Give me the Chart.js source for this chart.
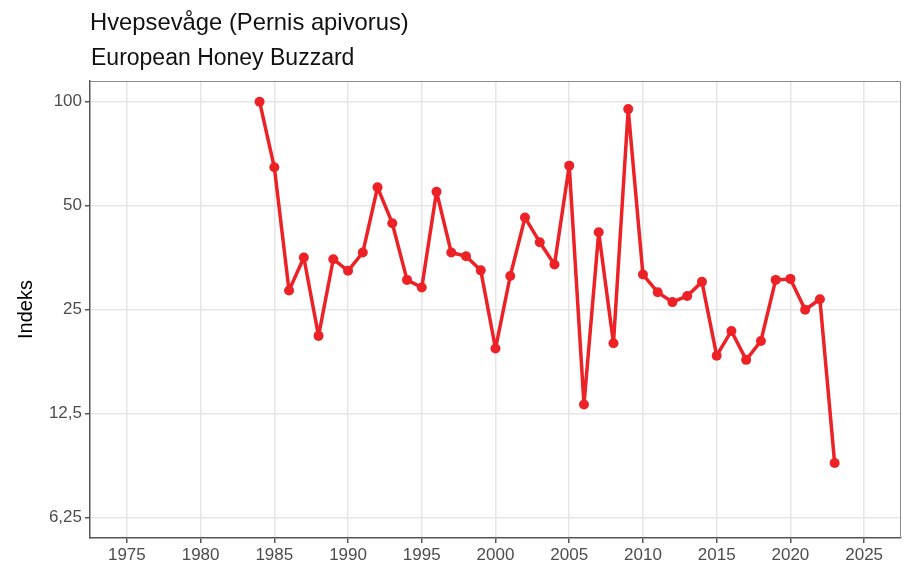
<!DOCTYPE html>
<html>
<head>
<meta charset="utf-8">
<script src="https://cdn.jsdelivr.net/npm/chart.js@4"></script>
<style>
  body { margin: 0; background: #fff; font-family: "Liberation Sans", Arial, sans-serif; }
  #wrap { position: relative; width: 906px; height: 569px; }
  #titel { position: absolute; left: 90px; top: 8px; font-size: 23.8px; color: #111; }
  #undertitel { position: absolute; left: 91px; top: 44px; font-size: 23px; color: #111; }
</style>
</head>
<body>
<div id="wrap">
  <canvas id="graf" width="906" height="569"></canvas>
  <div id="titel">Hvepsevåge (Pernis apivorus)</div>
  <div id="undertitel">European Honey Buzzard</div>
</div>
<script>
// Indeks for hvepsevåge, 1984 = 100
const aar = [1984, 1985, 1986, 1987, 1988, 1989, 1990, 1991, 1992, 1993,
             1994, 1995, 1996, 1997, 1998, 1999, 2000, 2001, 2002, 2003,
             2004, 2005, 2006, 2007, 2008, 2009, 2010, 2011, 2012, 2013,
             2014, 2015, 2016, 2017, 2018, 2019, 2020, 2021, 2022, 2023];
const indeks = [100, 64.6, 28.4, 35.4, 21.0, 35.0, 32.4, 36.6, 56.5, 44.5,
                30.5, 29.0, 54.9, 36.6, 35.7, 32.5, 19.3, 31.3, 46.2, 39.2,
                33.8, 65.3, 13.3, 41.9, 20.0, 95.2, 31.6, 28.1, 26.3, 27.4,
                30.1, 18.4, 21.7, 17.9, 20.3, 30.5, 30.7, 25.0, 26.8, 9.0];
const yTicks = [6.25, 12.5, 25, 50, 100];
const xTicks = [1975, 1980, 1985, 1990, 1995, 2000, 2005, 2010, 2015, 2020, 2025];

const ROED = '#ec2227';
const GRID = '#e6e6e6';
const AKSE = '#555555';
const TEKST = '#4d4d4d';

// ramme rundt om plotområdet (theme_bw)
const ramme = {
    id: 'ramme',
    afterDraw(chart) {
        const a = chart.chartArea, c = chart.ctx;
        c.save();
        c.strokeStyle = '#8a8a8a';
        c.lineWidth = 1;
        c.beginPath();
        c.moveTo(a.left, a.top + 0.5);
        c.lineTo(a.right - 0.5, a.top + 0.5);
        c.lineTo(a.right - 0.5, a.bottom);
        c.stroke();
        c.restore();
    }
};

new Chart(document.getElementById('graf'), {
    type: 'line',
    data: {
        datasets: [{
            data: aar.map((x, i) => ({ x: x, y: indeks[i] })),
            borderColor: ROED,
            backgroundColor: ROED,
            borderWidth: 3.5,
            borderJoinStyle: 'round',
            borderCapStyle: 'round',
            pointRadius: 5,
            pointBackgroundColor: ROED,
            pointBorderWidth: 0,
            tension: 0,
        }]
    },
    options: {
        responsive: false,
        animation: false,
        layout: { padding: { top: 81, right: 3, left: 0, bottom: 0 } },
        plugins: { legend: { display: false }, tooltip: { enabled: false } },
        scales: {
            x: {
                type: 'linear',
                min: 1972.5,
                max: 2027.5,
                afterBuildTicks: s => { s.ticks = xTicks.map(v => ({ value: v })); },
                afterFit: s => { s.height = 31; },
                ticks: {
                    color: TEKST,
                    font: { family: 'Liberation Sans', size: 17 },
                    padding: 2,
                    maxRotation: 0,
                    callback: v => String(v),
                },
                grid: { color: GRID, lineWidth: 1.5, tickLength: 5, tickColor: AKSE, tickWidth: 1.5 },
                border: { color: AKSE, width: 1.5 },
            },
            y: {
                type: 'logarithmic',
                min: 5.46,
                max: 114.8,
                afterBuildTicks: s => { s.ticks = yTicks.map(v => ({ value: v })); },
                afterFit: s => { s.width = 90; },
                ticks: {
                    color: TEKST,
                    font: { family: 'Liberation Sans', size: 17 },
                    padding: 3,
                    callback: v => String(v).replace('.', ','),
                },
                title: {
                    display: true,
                    text: 'Indeks',
                    color: '#000',
                    font: { family: 'Liberation Sans', size: 20 },
                    padding: { top: 14, bottom: 4 },
                },
                grid: { color: GRID, lineWidth: 1.5, tickLength: 5, tickColor: AKSE, tickWidth: 1.5 },
                border: { color: AKSE, width: 1.5 },
            }
        }
    },
    plugins: [ramme]
});
</script>
</body>
</html>
